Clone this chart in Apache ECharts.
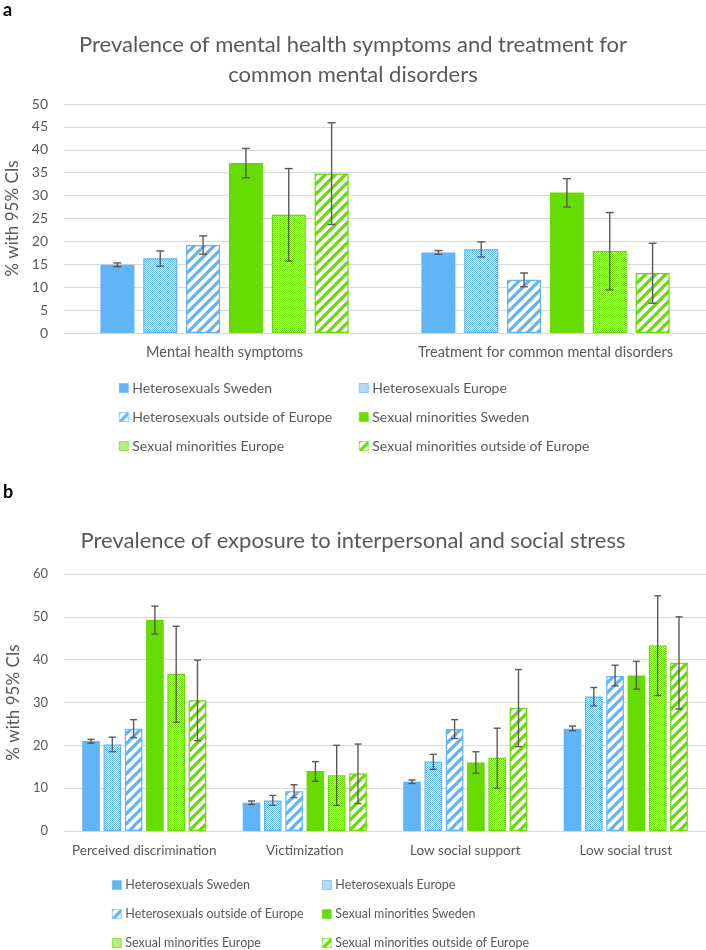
<!DOCTYPE html>
<html>
<head>
<meta charset="utf-8">
<script src="https://cdn.jsdelivr.net/npm/echarts@6/dist/echarts.min.js"></script>
<style>
  html, body { margin: 0; padding: 0; background: #fff; }
  #main { width: 706px; height: 950px; }
</style>
</head>
<body>
<div id="main"></div>
<script>
// series names (same six groups in both panels)
const seriesNames = [
    'Heterosexuals Sweden', 'Heterosexuals Europe', 'Heterosexuals outside of Europe',
    'Sexual minorities Sweden', 'Sexual minorities Europe', 'Sexual minorities outside of Europe'
];

// panel a
const categoriesA = ['Mental health symptoms', 'Treatment for common mental disorders'];
const hetSwedenA = [14.9, 17.6];
const hetEuropeA = [16.3, 18.3];
const hetOutsideA = [19.2, 11.6];
const minSwedenA = [37.1, 30.7];
const minEuropeA = [25.8, 17.9];
const minOutsideA = [34.8, 13.1];
const hetSwedenACI = [[14.5, 15.3], [17.2, 18.0]];
const hetEuropeACI = [[14.6, 17.9], [16.6, 19.9]];
const hetOutsideACI = [[17.2, 21.2], [10.1, 13.1]];
const minSwedenACI = [[33.9, 40.3], [27.5, 33.7]];
const minEuropeACI = [[15.7, 35.9], [9.4, 26.3]];
const minOutsideACI = [[23.7, 45.9], [6.5, 19.6]];

// panel b
const categoriesB = ['Perceived discrimination', 'Victimization', 'Low social support', 'Low social trust'];
const hetSwedenB = [21.0, 6.6, 11.5, 23.9];
const hetEuropeB = [20.2, 7.1, 16.2, 31.4];
const hetOutsideB = [23.9, 9.3, 23.8, 36.2];
const minSwedenB = [49.3, 14.0, 16.0, 36.3];
const minEuropeB = [36.7, 13.0, 17.1, 43.3];
const minOutsideB = [30.5, 13.4, 28.8, 39.3];
const hetSwedenBCI = [[20.5, 21.4], [6.2, 7.0], [11.1, 11.9], [23.4, 24.5]];
const hetEuropeBCI = [[18.5, 21.9], [6.0, 8.3], [14.4, 17.9], [29.2, 33.5]];
const hetOutsideBCI = [[21.8, 26.0], [7.8, 10.8], [21.6, 26.0], [33.9, 38.7]];
const minSwedenBCI = [[46.0, 52.5], [11.6, 16.2], [13.5, 18.5], [33.1, 39.6]];
const minEuropeBCI = [[25.4, 47.8], [6.0, 20.0], [10.0, 24.0], [31.6, 54.9]];
const minOutsideBCI = [[21.1, 39.9], [6.4, 20.3], [19.7, 37.7], [28.5, 50.0]];

const BLUE = '#62b4f8';
const GREEN = '#66dc00';
const TEXT = '#595959';
const GRIDLINE = '#d9d9d9';
const FONT = 'Lato, "Open Sans", sans-serif';

// fills: plain, small checker, wide upward diagonal
function checker(c) {
    const cv = document.createElement('canvas');
    cv.width = 2; cv.height = 2;
    const ctx = cv.getContext('2d');
    ctx.fillStyle = '#fff';
    ctx.fillRect(0, 0, 2, 2);
    ctx.fillStyle = c;
    ctx.fillRect(0, 0, 1, 1);
    ctx.fillRect(1, 1, 1, 1);
    return { image: cv, repeat: 'repeat' };
}

function stripes(c) {
    const s = 10;
    const cv = document.createElement('canvas');
    cv.width = s; cv.height = s;
    const ctx = cv.getContext('2d');
    ctx.fillStyle = '#fff';
    ctx.fillRect(0, 0, s, s);
    ctx.strokeStyle = c;
    ctx.lineWidth = 3.3;
    ctx.beginPath();
    for (let k = -1; k <= 1; k++) {
        ctx.moveTo(k * s - 1, s + 1);
        ctx.lineTo(k * s + s + 1, -1);
    }
    ctx.stroke();
    return { image: cv, repeat: 'repeat' };
}

function fillFor(i) {
    const c = i < 3 ? BLUE : GREEN;
    const kind = i % 3;
    if (kind === 0) return c;
    return kind === 1 ? checker(c) : stripes(c);
}

function panelSeries(axis, values, cis, barWidth, gapRatio, capW) {
    const step = barWidth * (1 + gapRatio);
    const out = [];
    values.forEach((vals, i) => {
        const c = i < 3 ? BLUE : GREEN;
        out.push({
            name: seriesNames[i],
            type: 'bar',
            xAxisIndex: axis,
            yAxisIndex: axis,
            data: vals,
            barWidth: barWidth,
            barGap: Math.round(gapRatio * 100) + '%',
            itemStyle: {
                color: fillFor(i),
                borderColor: c,
                borderWidth: i % 3 === 0 ? 0 : 1.2
            },
            emphasis: { disabled: true },
            z: 2
        });
    });
    // error bars, shifted to sit on each bar
    cis.forEach((ci, i) => {
        const off = (i - 2.5) * step;
        out.push({
            type: 'custom',
            xAxisIndex: axis,
            yAxisIndex: axis,
            silent: true,
            z: 5,
            data: ci.map((d, k) => [k, d[0], d[1]]),
            encode: { x: 0, y: [1, 2] },
            renderItem(params, api) {
                const k = api.value(0);
                const lo = api.coord([k, api.value(1)]);
                const hi = api.coord([k, api.value(2)]);
                const x = lo[0] + off;
                const style = { stroke: '#595959', lineWidth: 1.4 };
                return {
                    type: 'group',
                    children: [
                        { type: 'line', shape: { x1: x, y1: lo[1], x2: x, y2: hi[1] }, style },
                        { type: 'line', shape: { x1: x - capW / 2, y1: lo[1], x2: x + capW / 2, y2: lo[1] }, style },
                        { type: 'line', shape: { x1: x - capW / 2, y1: hi[1], x2: x + capW / 2, y2: hi[1] }, style }
                    ]
                };
            }
        });
    });
    return out;
}

function legendCol(left, top, names, size) {
    return {
        orient: 'vertical',
        left: left,
        top: top,
        padding: 0,
        itemGap: 15,
        itemWidth: 9,
        itemHeight: 9,
        icon: 'rect',
        selectedMode: false,
        itemStyle: { borderWidth: 0.6 },
        data: names,
        textStyle: { color: TEXT, fontSize: size, lineHeight: 14, fontFamily: FONT, padding: [0, 0, 0, -1] }
    };
}

function yAxisFor(grid, max, interval, size) {
    return {
        gridIndex: grid,
        type: 'value',
        min: 0,
        max: max,
        interval: interval,
        axisLine: { show: false },
        axisTick: { show: false },
        axisLabel: { color: TEXT, fontSize: size, fontFamily: FONT, margin: 16 },
        splitLine: { lineStyle: { color: GRIDLINE, width: 1 } },
        name: '% with 95% CIs',
        nameLocation: 'middle',
        nameRotate: 90,
        nameGap: 30,
        nameTextStyle: { color: TEXT, fontSize: 17, fontFamily: FONT }
    };
}

function xAxisFor(grid, cats, size, margin) {
    return {
        gridIndex: grid,
        type: 'category',
        data: cats,
        axisLine: { lineStyle: { color: GRIDLINE, width: 1 } },
        axisTick: { show: false },
        axisLabel: { color: TEXT, fontSize: size, fontFamily: FONT, interval: 0, margin: margin }
    };
}

const chart = echarts.init(document.getElementById('main'), null, { renderer: 'canvas' });

const option = {
    backgroundColor: '#fff',
    animation: false,
    textStyle: { fontFamily: FONT },
    title: [
        { text: 'a', left: 3, top: 1, padding: 0,
          textStyle: { fontSize: 18, fontWeight: 'bold', color: '#000', fontFamily: FONT } },
        { text: 'Prevalence of mental health symptoms and treatment for\ncommon mental disorders',
          left: 'center', top: 30, padding: 0,
          textStyle: { fontSize: 22, fontWeight: 'normal', color: TEXT, lineHeight: 30, fontFamily: FONT } },
        { text: 'b', left: 3, top: 483, padding: 0,
          textStyle: { fontSize: 18, fontWeight: 'bold', color: '#000', fontFamily: FONT } },
        { text: 'Prevalence of exposure to interpersonal and social stress',
          left: 'center', top: 526, padding: 0,
          textStyle: { fontSize: 22, fontWeight: 'normal', color: TEXT, lineHeight: 30, fontFamily: FONT } }
    ],
    legend: [
        legendCol(119, 381, [seriesNames[0], seriesNames[2], seriesNames[4]], 14),
        legendCol(359, 381, [seriesNames[1], seriesNames[3], seriesNames[5]], 14),
        legendCol(112, 878, [seriesNames[0], seriesNames[2], seriesNames[4]], 12.5),
        legendCol(322, 878, [seriesNames[1], seriesNames[3], seriesNames[5]], 12.5)
    ],
    grid: [
        { left: 64, top: 104, width: 642, height: 229, outerBoundsMode: 'none' },
        { left: 64, top: 574, width: 642, height: 257, outerBoundsMode: 'none' }
    ],
    xAxis: [
        xAxisFor(0, categoriesA, 14.5, 12),
        xAxisFor(1, categoriesB, 13.5, 13)
    ],
    yAxis: [
        yAxisFor(0, 50, 5, 14),
        yAxisFor(1, 60, 10, 13)
    ],
    series: [].concat(
        panelSeries(0,
            [hetSwedenA, hetEuropeA, hetOutsideA, minSwedenA, minEuropeA, minOutsideA],
            [hetSwedenACI, hetEuropeACI, hetOutsideACI, minSwedenACI, minEuropeACI, minOutsideACI],
            34, 0.26, 8),
        panelSeries(1,
            [hetSwedenB, hetEuropeB, hetOutsideB, minSwedenB, minEuropeB, minOutsideB],
            [hetSwedenBCI, hetEuropeBCI, hetOutsideBCI, minSwedenBCI, minEuropeBCI, minOutsideBCI],
            17.6, 0.21, 7)
    )
};

chart.setOption(option);
window.addEventListener('resize', () => chart.resize());
</script>
</body>
</html>
